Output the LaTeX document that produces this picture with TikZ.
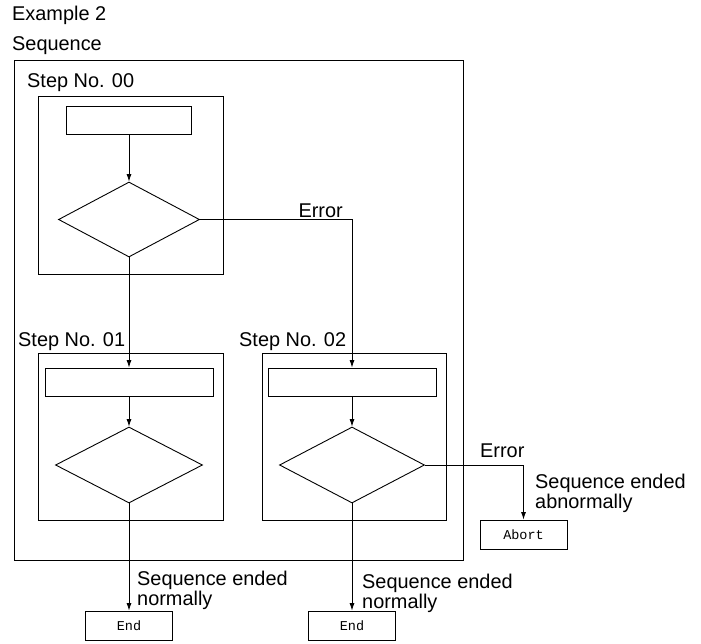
\documentclass[tikz,border=0pt]{standalone}
\usepackage{fontspec}
\setmainfont{Liberation Sans}
\newfontfamily\monofont{Liberation Mono}
\usetikzlibrary{positioning,arrows.meta,shapes.geometric}

\tikzset{
  frame/.style={draw, line width=0.9pt, inner sep=0pt},
  procbox/.style={draw, line width=0.9pt, minimum height=28pt, inner sep=0pt},
  decide/.style={draw, diamond, line width=0.9pt, minimum width=145pt, minimum height=76pt, inner sep=0pt},
  endbox/.style={draw, line width=0.9pt, minimum width=87pt, minimum height=29pt, inner sep=0pt,
    font=\monofont\fontsize{13.5}{13.5}\selectfont},
  lbl/.style={inner sep=0pt, align=left},
  flow/.style={-{Latex[length=7.5pt,width=5pt]}, line width=0.8pt},
}

\begin{document}
\begin{tikzpicture}[x=1pt, y=-1pt, font=\fontsize{19.9}{18}\selectfont]
  \useasboundingbox (0,0) rectangle (701,643);

  % frames: sequence and its steps
  \node[frame, minimum width=449pt, minimum height=500pt] (seq) at (238.5,310) {};
  \node[frame, minimum width=185pt, minimum height=178pt] (step00) at (130.5,185) {};
  \node[frame, minimum width=185pt, minimum height=167pt] (step01) at (130.5,436.5) {};
  \node[frame, minimum width=184pt, minimum height=167pt] (step02) at (354,436.5) {};

  \node[lbl, anchor=base west] (title) at (12,20) {Example 2};
  \node[lbl, anchor=base west] (seqname) at (12,50) {Sequence};
  \node[lbl, anchor=base west] (name00) at (27,87) {Step No. 00};
  \node[lbl, anchor=base west] (name01) at (18,346) {Step No. 01};
  \node[lbl, anchor=base west] (name02) at (239,346) {Step No. 02};

  % step 00
  \node[procbox, minimum width=125pt] (act00) at (129,120) {};
  \node[decide, minimum width=141pt, minimum height=75pt] (chk00) at (129,219.5) {};
  % step 01
  \node[procbox, minimum width=168pt] (act01) at (129,382) {};
  \node[decide, minimum width=147pt] (chk01) at (129,465) {};
  % step 02
  \node[procbox, minimum width=168pt] (act02) at (352,382) {};
  \node[decide] (chk02) at (352,465) {};

  % end states
  \node[endbox] (end01) at (129,625.5) {End};
  \node[endbox] (end02) at (352,625.5) {End};
  \node[endbox] (abort) at (523.5,534.5) {Abort};

  \draw[flow] (act00) -- (chk00);
  \draw[flow] (chk00) -- (act01);
  \draw[flow] (chk00.east) -| (act02.north);
  \draw[flow] (act01) -- (chk01);
  \draw[flow] (act02) -- (chk02);
  \draw[flow] (chk01) -- (end01);
  \draw[flow] (chk02) -- (end02);
  \draw[flow] (chk02.east) -| (abort.north);

  \node[lbl, anchor=base east] (err00) at (343,217) {Error};
  \node[lbl, anchor=base west] (err02) at (480,457) {Error};
  \node[lbl, anchor=north west] (ok01) at (137,571) {Sequence ended\\normally};
  \node[lbl, anchor=north west] (ok02) at (362,574) {Sequence ended\\normally};
  \node[lbl, anchor=north west] (bad02) at (535,474) {Sequence ended\\abnormally};
\end{tikzpicture}
\end{document}
